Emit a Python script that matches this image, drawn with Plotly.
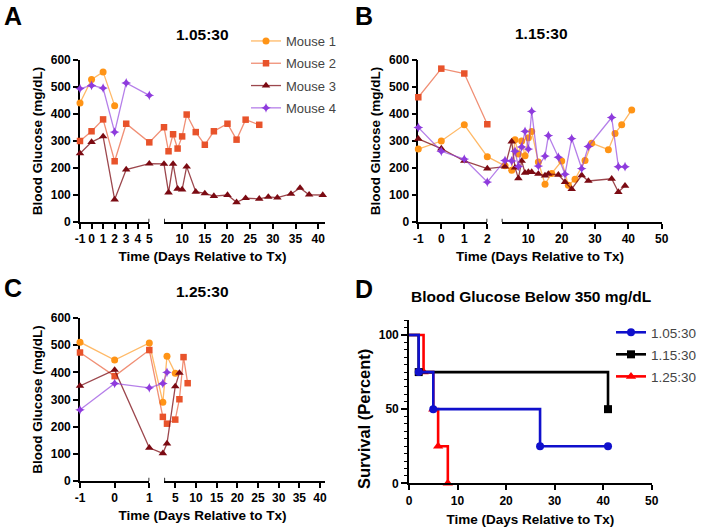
import plotly.graph_objects as go

W, H = 702, 528
FONT = "Liberation Sans, Arial, sans-serif"

# ---------------- data ----------------
# Panel A (1.05:30) - days relative to Tx, blood glucose mg/dL
a_m1_days = [-1, 0, 1, 2]
a_m1_bg = [441, 528, 556, 431]
a_m2_days = [-1, 0, 1, 2, 3, 5, 6, 7, 8, 9, 10, 11, 13, 15, 17, 20, 22, 24, 27]
a_m2_bg = [300, 336, 380, 225, 364, 295, 351, 262, 325, 272, 317, 398, 333, 286, 336, 364, 305, 379, 360]
a_m3_days = [-1, 0, 1, 2, 3, 5, 6, 7, 8, 9, 10, 11, 13, 15, 17, 20, 22, 24, 27, 29, 31, 34, 36, 38, 41]
a_m3_bg = [254, 296, 317, 83, 194, 216, 215, 109, 215, 123, 120, 205, 112, 106, 96, 100, 73, 88, 86, 93, 90, 104, 126, 101, 100]
a_m4_days = [-1, 0, 1, 2, 3, 5]
a_m4_bg = [494, 506, 496, 333, 515, 469]

# Panel B (1.15:30)
b_m1_days = [-1, 0, 1, 2, 3, 5, 6, 7, 8, 9, 10, 11, 13, 15, 17, 20, 22, 24, 27, 29, 34, 36, 38, 41]
b_m1_bg = [270, 300, 360, 242, 208, 192, 305, 252, 300, 245, 312, 335, 222, 140, 180, 226, 136, 158, 228, 292, 268, 328, 360, 415]
b_m2_days = [-1, 0, 1, 2]
b_m2_bg = [462, 568, 550, 362]
b_m3_days = [-1, 0, 1, 2, 3, 5, 6, 7, 8, 9, 10, 11, 13, 15, 16, 19, 21, 23, 26, 28, 35, 37, 39]
b_m3_bg = [308, 272, 226, 198, 205, 298, 201, 162, 226, 182, 185, 185, 178, 172, 178, 175, 148, 122, 173, 152, 160, 111, 134]
b_m4_days = [-1, 0, 1, 2, 3, 5, 6, 7, 8, 9, 10, 11, 13, 15, 16, 19, 21, 23, 26, 28, 35, 37, 39]
b_m4_bg = [350, 262, 233, 148, 228, 226, 262, 206, 278, 336, 270, 410, 207, 244, 320, 240, 177, 309, 198, 280, 387, 205, 205]

# Panel C (1.25:30)
c_m1_days = [-1, 0, 1, 2, 3, 5]
c_m1_bg = [511, 445, 508, 290, 459, 397]
c_m2_days = [-1, 0, 1, 2, 3, 5, 6, 7, 8]
c_m2_bg = [473, 386, 482, 236, 211, 226, 301, 456, 360]
c_m3_days = [-1, 0, 1, 2, 3, 5, 6]
c_m3_bg = [350, 409, 122, 102, 138, 348, 398]
c_m4_days = [-1, 0, 1, 2, 3]
c_m4_bg = [262, 359, 343, 359, 400]

# Panel D - Kaplan-Meier, blood glucose below 350 mg/dL
d_groups = ["1.05:30", "1.15:30", "1.25:30"]
d_105_t = [0, 2, 5, 27, 41]
d_105_s = [100, 75, 50, 25, 25]
d_115_t = [0, 2, 41]
d_115_s = [100, 75, 50]
d_125_t = [0, 3, 5, 6, 8]
d_125_s = [100, 75, 50, 25, 0]

mouse_names = ["Mouse 1", "Mouse 2", "Mouse 3", "Mouse 4"]

# tick values / labels of the broken x axes
a_left_ticks = [-1, 0, 1, 2, 3, 4, 5]
a_right_ticks = [10, 15, 20, 25, 30, 35, 40]
b_left_ticks = [-1, 0, 1, 2]
b_right_ticks = [10, 20, 30, 40, 50]
c_left_ticks = [-1, 0, 1]
c_right_ticks = [5, 10, 15, 20, 25, 30, 35, 40]
bg_ticks = [0, 100, 200, 300, 400, 500, 600]

# ---------------- styles ----------------
mouse_marker = ["#FF9416", "#E8532B", "#7B0A12", "#8E3BDD"]
mouse_line = ["rgba(255,148,22,0.65)", "rgba(232,83,43,0.65)", "rgba(123,10,18,0.75)", "rgba(142,59,221,0.65)"]
mouse_symbol = ["circle", "square", "triangle-up", "star-diamond"]
mouse_size = [7, 6.5, 7.5, 7]


def fx(p):
    return p / W


def fy(p):
    return 1 - p / H


def labels(vals):
    # plain hyphen for negatives (as in the original), not the wide unicode minus
    return [str(v) for v in vals]


# broken-axis geometry: (left range, left px), (right range, right px)
panels = [
    dict(ypx=(222, 60), left=((-1, 5), (80, 149.3)), right=((6, 41.5), (164, 325)),
         lt=a_left_ticks, rt=a_right_ticks, title="1.05:30", tpos=(202, 34),
         letter="A", lpos=(2, 16),
         series=[(a_m1_days, a_m1_bg), (a_m2_days, a_m2_bg), (a_m3_days, a_m3_bg), (a_m4_days, a_m4_bg)]),
    dict(ypx=(222, 60), left=((-1, 2), (418.3, 487.3)), right=((2, 50), (501.7, 661.7)),
         lt=b_left_ticks, rt=b_right_ticks, title="1.15:30", tpos=(541, 33),
         letter="B", lpos=(353, 16),
         series=[(b_m1_days, b_m1_bg), (b_m2_days, b_m2_bg), (b_m3_days, b_m3_bg), (b_m4_days, b_m4_bg)]),
    dict(ypx=(481, 318), left=((-1, 1), (80, 149.3)), right=((2.35, 41.2), (164.3, 325)),
         lt=c_left_ticks, rt=c_right_ticks, title="1.25:30", tpos=(202, 291),
         letter="C", lpos=(2, 288),
         series=[(c_m1_days, c_m1_bg), (c_m2_days, c_m2_bg), (c_m3_days, c_m3_bg), (c_m4_days, c_m4_bg)]),
]


def broken(days, p):
    """Piecewise scale of a broken x axis: days -> position on the panel's data axis."""
    (l0, l1), (lp0, lp1) = p["left"]
    (r0, r1), (rp0, rp1) = p["right"]
    out = []
    for d in days:
        if d <= l1:
            out.append(lp0 + (d - l0) / (l1 - l0) * (lp1 - lp0))
        else:
            out.append(rp0 + (d - r0) / (r1 - r0) * (rp1 - rp0))
    return out


tickfont = dict(family=FONT, size=12, color="black", weight="bold")
titlefont = dict(family=FONT, size=13.5, color="black", weight="bold")
axis_common = dict(showgrid=False, zeroline=False, showline=True, linecolor="black", linewidth=1.6,
                   ticks="outside", ticklen=5, tickwidth=1.6, tickcolor="black", tickfont=tickfont,
                   tickangle=0, automargin=False, fixedrange=True)

layout = dict(width=W, height=H, margin=dict(l=0, r=0, t=0, b=0), template="none",
              paper_bgcolor="white", plot_bgcolor="white", font=dict(family=FONT, color="black"),
              showlegend=True, hovermode="closest")
shapes = []
annotations = []
traces = []

for i, p in enumerate(panels):
    yname = "yaxis" if i == 0 else f"yaxis{i + 1}"
    yref = "y" if i == 0 else f"y{i + 1}"
    nL, nR, nD = 3 * i + 1, 3 * i + 2, 3 * i + 3
    xLname = "xaxis" if nL == 1 else f"xaxis{nL}"
    xLref = "x" if nL == 1 else f"x{nL}"
    xRref = f"x{nR}"
    xDref = f"x{nD}"
    (l0, l1), (lp0, lp1) = p["left"]
    (r0, r1), (rp0, rp1) = p["right"]
    layout[xLname] = dict(axis_common, domain=[fx(lp0), fx(lp1)], range=[l0, l1],
                          tickmode="array", tickvals=p["lt"], ticktext=labels(p["lt"]), anchor=yref)
    layout[f"xaxis{nR}"] = dict(axis_common, domain=[fx(rp0), fx(rp1)], range=[r0, r1],
                                tickmode="array", tickvals=p["rt"], ticktext=labels(p["rt"]), anchor=yref)
    layout[f"xaxis{nD}"] = dict(domain=[fx(lp0), fx(rp1)], range=[lp0, rp1], anchor=yref,
                                showline=False, ticks="", showticklabels=False, showgrid=False,
                                zeroline=False, automargin=False, fixedrange=True,
                                title=dict(text="Time (Days Relative to Tx)", font=titlefont, standoff=29))
    y0, y1 = p["ypx"]
    layout[yname] = dict(axis_common, domain=[fy(y0), fy(y1)], range=[0, 600],
                         tickmode="array", tickvals=bg_ticks, anchor=xLref,
                         title=dict(text="Blood Glucose (mg/dL)", font=titlefont, standoff=5))
    # break marks
    shapes.append(dict(type="line", xref=xLref, yref=yref, x0=l1, x1=l1, y0=-14, y1=12,
                       line=dict(color="black", width=1.6)))
    shapes.append(dict(type="line", xref=xRref, yref=yref, x0=r0, x1=r0, y0=-14, y1=12,
                       line=dict(color="black", width=1.6)))
    annotations.append(dict(text=p["title"], x=fx(p["tpos"][0]), y=fy(p["tpos"][1]), xref="paper", yref="paper",
                            xanchor="center", yanchor="middle", showarrow=False,
                            font=dict(family=FONT, size=15.5, color="black", weight="bold")))
    annotations.append(dict(text=p["letter"], x=fx(p["lpos"][0]), y=fy(p["lpos"][1]), xref="paper", yref="paper",
                            xanchor="left", yanchor="middle", showarrow=False,
                            font=dict(family=FONT, size=25, color="black", weight="bold")))
    for k, (days, bg) in enumerate(p["series"]):
        traces.append(go.Scatter(
            x=broken(days, p), y=bg, xaxis=xDref, yaxis=yref, mode="lines+markers",
            name=mouse_names[k], legendgroup=mouse_names[k], showlegend=(i == 0),
            line=dict(color=mouse_line[k], width=1.3),
            marker=dict(symbol=mouse_symbol[k], size=mouse_size[k], color=mouse_marker[k], line=dict(width=0)),
            cliponaxis=False, customdata=days,
            hovertemplate="Day %{customdata}<br>%{y} mg/dL<extra>" + mouse_names[k] + "</extra>"))

# ---------------- panel D ----------------
layout["xaxis10"] = dict(axis_common, domain=[fx(409), fx(651.7)], range=[0, 50], tickmode="linear",
                         tick0=0, dtick=10, anchor="y4",
                         title=dict(text="Time (Days Relative to Tx)", font=titlefont, standoff=8))
layout["yaxis4"] = dict(axis_common, domain=[fy(483.3), fy(320.2)], range=[0, 110], tickmode="linear",
                        tick0=0, dtick=50, anchor="x10", ticklen=6,
                        minor=dict(ticks="outside", dtick=5, tick0=0, ticklen=3, tickwidth=1.2, tickcolor="black"))
# y title of panel D sits lower than the axis centre in the original
annotations.append(dict(text="Survival (Percent)", x=fx(364), y=fy(419), xref="paper", yref="paper",
                        xanchor="center", yanchor="middle", textangle=-90, showarrow=False,
                        font=dict(family=FONT, size=16.5, color="black", weight="bold")))
annotations.append(dict(text="Blood Glucose Below 350 mg/dL", x=fx(531), y=fy(296), xref="paper", yref="paper",
                        xanchor="center", yanchor="middle", showarrow=False,
                        font=dict(family=FONT, size=15.5, color="black", weight="bold")))
annotations.append(dict(text="D", x=fx(353), y=fy(289), xref="paper", yref="paper",
                        xanchor="left", yanchor="middle", showarrow=False,
                        font=dict(family=FONT, size=25, color="black", weight="bold")))

km = [
    (d_125_t, d_125_s, d_groups[2], "#FF0000", "triangle-up", 9, 3),
    (d_115_t, d_115_s, d_groups[1], "#000000", "square", 8, 2),
    (d_105_t, d_105_s, d_groups[0], "#1010CC", "circle", 8, 1),
]
for t, s, name, col, sym, sz, rank in km:
    traces.append(go.Scatter(
        x=t, y=s, xaxis="x10", yaxis="y4", mode="lines+markers", line_shape="hv",
        name=name, legend="legend2", legendgroup=name, legendrank=rank,
        line=dict(color=col, width=2.6), marker=dict(symbol=sym, size=sz, color=col),
        selectedpoints=list(range(1, len(t))),
        selected=dict(marker=dict(opacity=1)), unselected=dict(marker=dict(opacity=0)),
        cliponaxis=False))

layout["legend"] = dict(x=fx(246), y=fy(26), xanchor="left", yanchor="top", bgcolor="rgba(0,0,0,0)",
                        font=dict(family=FONT, size=13, color="#444444"), tracegroupgap=2.4,
                        itemclick=False, itemdoubleclick=False)
layout["legend2"] = dict(x=1, y=fy(317), xanchor="right", yanchor="top", bgcolor="rgba(0,0,0,0)",
                         font=dict(family=FONT, size=13.5, color="#444444"), tracegroupgap=1.5,
                         itemclick=False, itemdoubleclick=False)
layout["shapes"] = shapes
layout["annotations"] = annotations

fig = go.Figure(data=traces, layout=layout)
fig.write_html("out.html")
